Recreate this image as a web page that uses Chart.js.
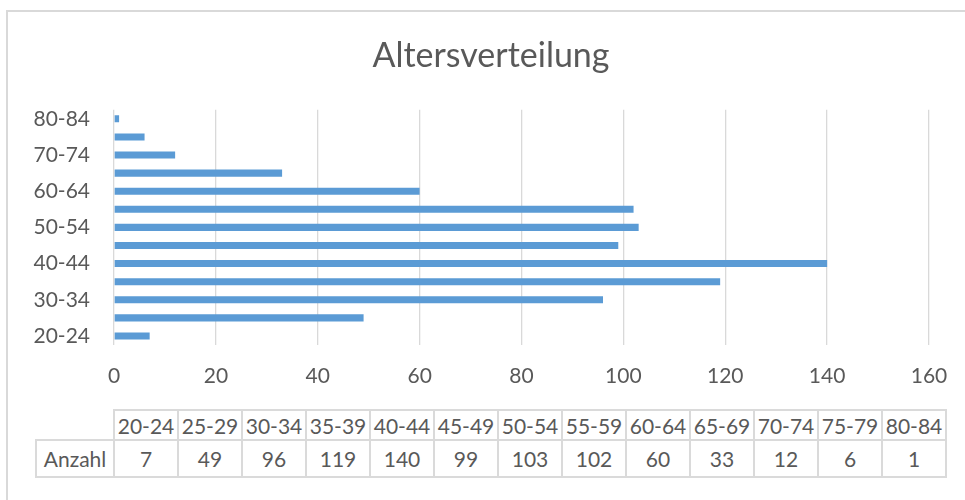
<!DOCTYPE html>
<html>
<head>
<meta charset="utf-8">
<script src="https://cdn.jsdelivr.net/npm/chart.js@4/dist/chart.umd.min.js"></script>
<style>
  html, body { margin: 0; padding: 0; background: #fff; overflow: hidden; width: 965px; height: 500px; }
  #frame { position: absolute; left: 6px; top: 10px; width: 966px; height: 520px; border-left: 2px solid #d9d9d9; border-top: 2px solid #d9d9d9; }
  #chart { display: block; }
  #dt { position: absolute; left: 35px; top: 409px; border-collapse: collapse; table-layout: fixed; width: 910px;
        font-family: Lato, "Open Sans", sans-serif; font-size: 21px; color: #595959; }
  #dt td { border: 2px solid #dadada; text-align: center; padding: 0; white-space: nowrap; }
  #dt td.blank { border: none; }
  #dt tr.h td { height: 28px; }
  #dt tr.v td { height: 35px; }
</style>
</head>
<body>
<div id="frame"><canvas id="chart" width="966" height="378"></canvas></div>
<table id="dt"></table>
<script>
const categories = ['20-24','25-29','30-34','35-39','40-44','45-49','50-54','55-59','60-64','65-69','70-74','75-79','80-84'];
const anzahl = [7, 49, 96, 119, 140, 99, 103, 102, 60, 33, 12, 6, 1];
const seriesName = 'Anzahl';
const chartTitle = 'Altersverteilung';
const xTicks = [0, 20, 40, 60, 80, 100, 120, 140, 160];

// data table
(function buildTable() {
  const t = document.getElementById('dt');
  const cg = document.createElement('colgroup');
  const c0 = document.createElement('col'); c0.style.width = '78px'; cg.appendChild(c0);
  categories.forEach(() => { const c = document.createElement('col'); c.style.width = '64px'; cg.appendChild(c); });
  t.appendChild(cg);
  const h = document.createElement('tr'); h.className = 'h';
  const b = document.createElement('td'); b.className = 'blank'; h.appendChild(b);
  categories.forEach(c => { const td = document.createElement('td'); td.textContent = c; h.appendChild(td); });
  t.appendChild(h);
  const v = document.createElement('tr'); v.className = 'v';
  const n = document.createElement('td'); n.textContent = seriesName; v.appendChild(n);
  anzahl.forEach(x => { const td = document.createElement('td'); td.textContent = x; v.appendChild(td); });
  t.appendChild(v);
})();

// center the title across the whole chart box (Excel style)
const centerTitle = {
  id: 'centerTitle',
  afterLayout(chart) {
    if (chart.titleBlock) { chart.titleBlock.left = 0; chart.titleBlock.right = chart.width; }
  }
};

const font = 'Lato, "Open Sans", sans-serif';
new Chart(document.getElementById('chart'), {
  type: 'bar',
  data: {
    labels: categories,
    datasets: [{
      label: seriesName,
      data: anzahl,
      backgroundColor: '#5B9BD5',
      borderWidth: 0,
      barPercentage: 0.39,
      categoryPercentage: 1
    }]
  },
  plugins: [centerTitle],
  options: {
    indexAxis: 'y',
    responsive: false,
    devicePixelRatio: 1,
    animation: false,
    layout: { padding: { left: 10, right: 45, top: 0, bottom: 0 } },
    plugins: {
      legend: { display: false },
      tooltip: { enabled: false },
      title: {
        display: true,
        text: chartTitle,
        color: '#595959',
        font: { family: font, size: 34, weight: 'normal' },
        padding: { top: 24, bottom: 33 }
      }
    },
    scales: {
      x: {
        type: 'linear',
        position: 'bottom',
        min: xTicks[0],
        max: xTicks[xTicks.length - 1],
        afterBuildTicks: s => { s.ticks = xTicks.map(v => ({ value: v })); },
        afterFit: s => { s.height = 45; },
        ticks: { color: '#595959', font: { family: font, size: 21 }, padding: 19 },
        grid: { color: '#d9d9d9', lineWidth: 1.3, drawTicks: false },
        border: { display: false }
      },
      y: {
        type: 'category',
        reverse: true,
        afterFit: s => { s.width = 96; },
        ticks: {
          color: '#595959',
          font: { family: font, size: 21 },
          padding: 16,
          autoSkip: false,
          callback: function (val, idx) { return idx % 2 === 0 ? this.getLabelForValue(val) : ''; }
        },
        grid: { display: false },
        border: { display: false }
      }
    }
  }
});
</script>
</body>
</html>
